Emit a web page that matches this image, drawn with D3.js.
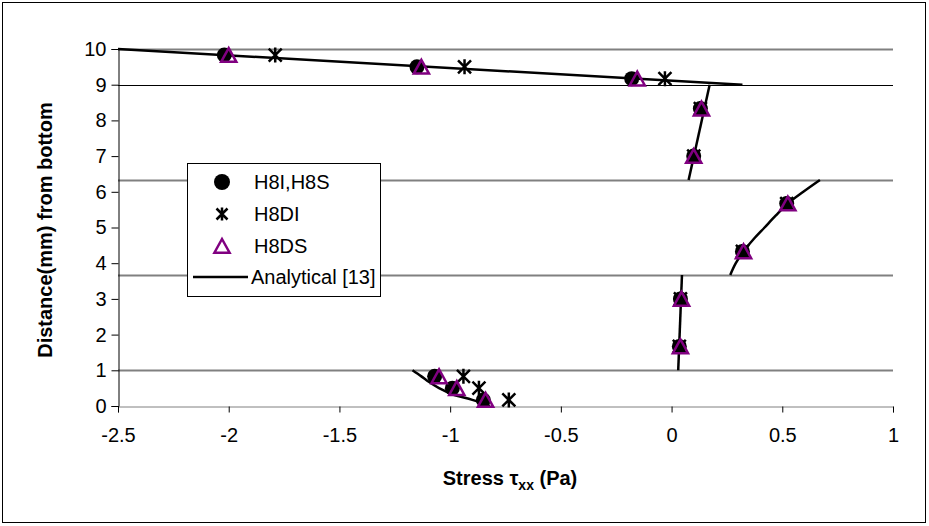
<!DOCTYPE html>
<html>
<head>
<meta charset="utf-8">
<script src="https://cdn.jsdelivr.net/npm/d3@7"></script>
<style>
  body { margin: 0; background: #fff; }
  text { font-family: "Liberation Sans", Arial, sans-serif; fill: #000; }
</style>
</head>
<body>
<svg width="929" height="526"></svg>
<script>
// depth of each sample point (mm from bottom)
var depth = [9.83, 9.5, 9.17, 8.33, 7.0, 5.67, 4.33, 3.0, 1.67, 0.83, 0.5, 0.17];
// stress values per series (Pa)
var h8iH8s = [-2.02, -1.15, -0.18, 0.13, 0.10, 0.52, 0.32, 0.04, 0.035, -1.07, -0.99, -0.85];
var h8di   = [-1.79, -0.935, -0.03, 0.13, 0.10, 0.52, 0.32, 0.04, 0.035, -0.94, -0.87, -0.735];
var h8ds   = [-2.0, -1.13, -0.155, 0.135, 0.10, 0.525, 0.325, 0.045, 0.04, -1.05, -0.97, -0.84];

// analytical solution, one piece per layer
var anaLayer1Y = [0, 0.17, 0.33, 0.5, 0.67, 0.83, 1];
var anaLayer1X = [-0.82, -0.9, -0.99, -1.05, -1.095, -1.13, -1.17];
var anaLayer2Y = [1, 3.67];
var anaLayer2X = [0.03, 0.047];
var anaLayer3Y = [3.67, 4.0, 4.33, 4.67, 5.0, 5.33, 5.67, 6.0, 6.33];
var anaLayer3X = [0.265, 0.29, 0.325, 0.37, 0.42, 0.47, 0.525, 0.595, 0.67];
var anaLayer4Y = [6.33, 9];
var anaLayer4X = [0.077, 0.172];
var anaLayer5Y = [9, 10];
var anaLayer5X = [0.32, -2.5];

// layer interfaces
var interfaces = [1, 3.67, 6.33, 9];

var xTicks = [-2.5, -2, -1.5, -1, -0.5, 0, 0.5, 1];
var yTicks = [0, 1, 2, 3, 4, 5, 6, 7, 8, 9, 10];

var svg = d3.select("svg");

// outer chart border
svg.append("rect")
    .attr("x", 2.5).attr("y", 2.5)
    .attr("width", 923).attr("height", 520)
    .attr("fill", "none").attr("stroke", "#000");

var x = d3.scaleLinear().domain([-2.5, 1]).range([118, 893]);
var y = d3.scaleLinear().domain([0, 10]).range([406, 49]);

// top line and interfaces
var g = svg.append("g");
g.selectAll("line.grid")
    .data([10].concat(interfaces))
    .enter().append("line")
    .attr("class", "grid")
    .attr("x1", x(-2.5)).attr("x2", x(1))
    .attr("y1", function (d) { return Math.round(y(d)) + 0.5; })
    .attr("y2", function (d) { return Math.round(y(d)) + 0.5; })
    .attr("stroke", function (d) { return d === 9 ? "#000" : "#808080"; })
    .attr("stroke-width", function (d) { return d === 9 ? 1 : 2; });

// axes
var xAxis = d3.axisBottom(x).tickValues(xTicks).tickSize(6);
var yAxis = d3.axisLeft(y).tickValues(yTicks).tickSize(7);

var gx = svg.append("g").attr("transform", "translate(0,406.5)").call(xAxis);
var gy = svg.append("g").attr("transform", "translate(118.5,0)").call(yAxis);
[gx, gy].forEach(function (a) {
    a.select(".domain").attr("stroke", "#000");
    a.selectAll(".tick line").attr("stroke", "#000");
    a.selectAll(".tick text")
        .style("font-family", "'Liberation Sans', Arial, sans-serif")
        .style("font-size", "20px")
        .attr("fill", "#000");
});
gx.select(".domain").attr("stroke", "#808080");
gx.selectAll(".tick text").attr("y", 14).attr("dy", "1.05em")
    .text(function (d) { return String(d); });
gy.selectAll(".tick text").attr("x", -12)
    .text(function (d) { return String(d); });

// axis titles
svg.append("text")
    .attr("transform", "translate(52,230) rotate(-90)")
    .attr("text-anchor", "middle")
    .style("font-size", "20px").style("font-weight", "bold")
    .text("Distance(mm) from bottom");

var xt = svg.append("text")
    .attr("x", 510).attr("y", 485)
    .attr("text-anchor", "middle")
    .style("font-size", "20px").style("font-weight", "bold");
xt.append("tspan").text("Stress \u03c4");
xt.append("tspan").attr("dy", 5).style("font-size", "14px").text("xx");
xt.append("tspan").attr("dy", -5).text(" (Pa)");

// analytical curves
var line = d3.line()
    .x(function (d) { return x(d[0]); })
    .y(function (d) { return y(d[1]); })
    .curve(d3.curveCatmullRom);

var pieces = [
    [anaLayer1X, anaLayer1Y],
    [anaLayer2X, anaLayer2Y],
    [anaLayer3X, anaLayer3Y],
    [anaLayer4X, anaLayer4Y],
    [anaLayer5X, anaLayer5Y]
];
svg.append("g").selectAll("path")
    .data(pieces)
    .enter().append("path")
    .attr("d", function (p) { return line(p[0].map(function (v, i) { return [v, p[1][i]]; })); })
    .attr("fill", "none")
    .attr("stroke", "#000")
    .attr("stroke-width", 2.5);

// markers
function starPath(s) {
    return "M" + (-s) + "," + (-s) + "L" + s + "," + s +
        "M" + (-s) + "," + s + "L" + s + "," + (-s) +
        "M0," + (-s - 1) + "L0," + (s + 1);
}
function triPath(s) {
    return "M0," + (-s) + "L" + (s * 0.95) + "," + (s * 0.72) + "L" + (-s * 0.95) + "," + (s * 0.72) + "Z";
}

svg.append("g").selectAll("circle")
    .data(h8iH8s)
    .enter().append("circle")
    .attr("cx", function (d) { return x(d); })
    .attr("cy", function (d, i) { return y(depth[i]); })
    .attr("r", 7.5)
    .attr("fill", "#000");

svg.append("g").selectAll("path")
    .data(h8di)
    .enter().append("path")
    .attr("transform", function (d, i) { return "translate(" + x(d) + "," + y(depth[i]) + ")"; })
    .attr("d", starPath(6.5))
    .attr("stroke", "#000")
    .attr("stroke-width", 2.5)
    .attr("fill", "none");

svg.append("g").selectAll("path")
    .data(h8ds)
    .enter().append("path")
    .attr("transform", function (d, i) { return "translate(" + x(d) + "," + (y(depth[i]) + 1) + ")"; })
    .attr("d", triPath(8))
    .attr("stroke", "#800080")
    .attr("stroke-width", 2.5)
    .attr("fill", "none");

// legend
var lg = svg.append("g");
lg.append("rect")
    .attr("x", 187.5).attr("y", 163.5)
    .attr("width", 193).attr("height", 133)
    .attr("fill", "#fff").attr("stroke", "#000");

var legendNames = ["H8I,H8S", "H8DI", "H8DS", "Analytical [13]"];
var legendY = [182, 214, 246, 277];
legendNames.forEach(function (name, i) {
    var cy = legendY[i];
    if (i === 0) {
        lg.append("circle").attr("cx", 222).attr("cy", cy).attr("r", 8).attr("fill", "#000");
    } else if (i === 1) {
        lg.append("path").attr("transform", "translate(222," + cy + ")")
            .attr("d", starPath(5.5)).attr("stroke", "#000").attr("stroke-width", 2.5).attr("fill", "none");
    } else if (i === 2) {
        lg.append("path").attr("transform", "translate(222," + (cy + 1) + ")")
            .attr("d", triPath(8)).attr("stroke", "#800080").attr("stroke-width", 2.5).attr("fill", "none");
    } else {
        lg.append("line").attr("x1", 193).attr("x2", 248).attr("y1", cy).attr("y2", cy)
            .attr("stroke", "#000").attr("stroke-width", 2.5);
    }
    lg.append("text")
        .attr("x", i === 3 ? 251 : 254).attr("y", cy + 7)
        .style("font-size", "20px")
        .text(name);
});
</script>
</body>
</html>
